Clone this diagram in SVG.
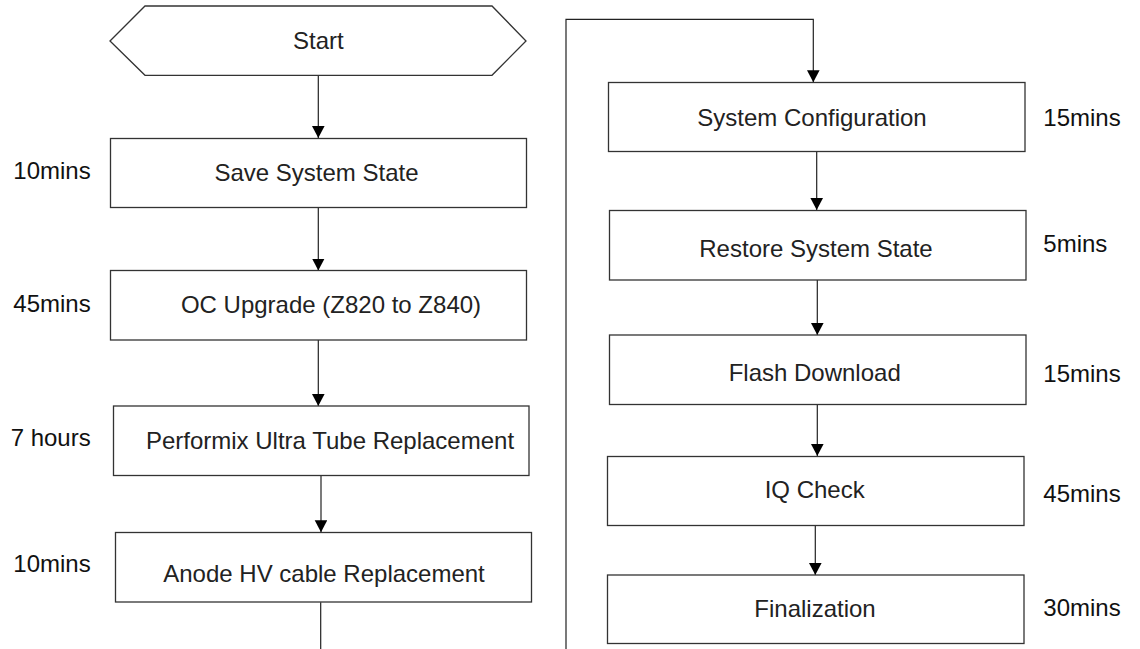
<svg xmlns="http://www.w3.org/2000/svg" width="1140" height="649" viewBox="0 0 1140 649">
<style>
.box{fill:#fff;stroke:#333;stroke-width:1.3}
.t{font-family:"Liberation Sans",Arial,sans-serif;font-size:24px;fill:#222;text-anchor:middle}
.lbl{font-family:"Liberation Sans",Arial,sans-serif;font-size:24px;fill:#111}
.l{text-anchor:end}
.c{fill:none;stroke:#222;stroke-width:1.2}
</style>
<defs>
<marker id="ah" markerUnits="userSpaceOnUse" markerWidth="13" markerHeight="13" refX="12" refY="6.3" orient="auto">
<path d="M0,0 L12,6.3 L0,12.6 z" fill="#000"/>
</marker>
</defs>
<rect width="1140" height="649" fill="#fff"/>
<g id="connectors">
<path class="c" d="M318.3,75.3 V138" marker-end="url(#ah)"/>
<path class="c" d="M318.3,207.7 V270.5" marker-end="url(#ah)"/>
<path class="c" d="M318.3,340 V406" marker-end="url(#ah)"/>
<path class="c" d="M321,475.5 V532.3" marker-end="url(#ah)"/>
<path class="c" d="M320.7,602.3 V660 H566 V19.3 H813.3 V82.3" marker-end="url(#ah)"/>
<path class="c" d="M816.7,151.7 V210" marker-end="url(#ah)"/>
<path class="c" d="M817.3,280 V335" marker-end="url(#ah)"/>
<path class="c" d="M817.3,404.3 V456" marker-end="url(#ah)"/>
<path class="c" d="M815.3,525.3 V575" marker-end="url(#ah)"/>
</g>
<g id="start">
<polygon class="box" points="110,41 145,6 492,6 526,41 492,75.3 145,75.3"/>
<text class="t" x="318.3" y="49.3">Start</text>
</g>
<g id="save-system-state">
<rect class="box" x="110.5" y="138.5" width="416" height="69"/>
<text class="t" x="316.5" y="181">Save System State</text>
<text class="lbl l" x="90.7" y="179.3">10mins</text>
</g>
<g id="oc-upgrade">
<rect class="box" x="110.5" y="270.5" width="416" height="69.5"/>
<text class="t" x="331" y="313">OC Upgrade (Z820 to Z840)</text>
<text class="lbl l" x="90.7" y="311.7">45mins</text>
</g>
<g id="tube-replacement">
<rect class="box" x="113.5" y="406" width="415.5" height="69.5"/>
<text class="t" x="330" y="449">Performix Ultra Tube Replacement</text>
<text class="lbl l" x="90.7" y="446">7 hours</text>
</g>
<g id="anode-cable">
<rect class="box" x="115.5" y="532.5" width="416" height="69.5"/>
<text class="t" x="324" y="582">Anode HV cable Replacement</text>
<text class="lbl l" x="90.7" y="572.3">10mins</text>
</g>
<g id="system-configuration">
<rect class="box" x="608.5" y="82.5" width="416.5" height="69"/>
<text class="t" x="812" y="125.7">System Configuration</text>
<text class="lbl" x="1043.3" y="125.7">15mins</text>
</g>
<g id="restore-system-state">
<rect class="box" x="609.5" y="210.5" width="416.5" height="69.5"/>
<text class="t" x="816" y="257.3">Restore System State</text>
<text class="lbl" x="1043.3" y="251.7">5mins</text>
</g>
<g id="flash-download">
<rect class="box" x="609.5" y="335" width="416.5" height="69.5"/>
<text class="t" x="814.7" y="381">Flash Download</text>
<text class="lbl" x="1043.3" y="382.3">15mins</text>
</g>
<g id="iq-check">
<rect class="box" x="607.5" y="456.5" width="416.5" height="69"/>
<text class="t" x="814.7" y="498.3">IQ Check</text>
<text class="lbl" x="1043.3" y="501.7">45mins</text>
</g>
<g id="finalization">
<rect class="box" x="607.5" y="575" width="416.5" height="68.5"/>
<text class="t" x="815" y="616.7">Finalization</text>
<text class="lbl" x="1043.3" y="616">30mins</text>
</g>
</svg>
